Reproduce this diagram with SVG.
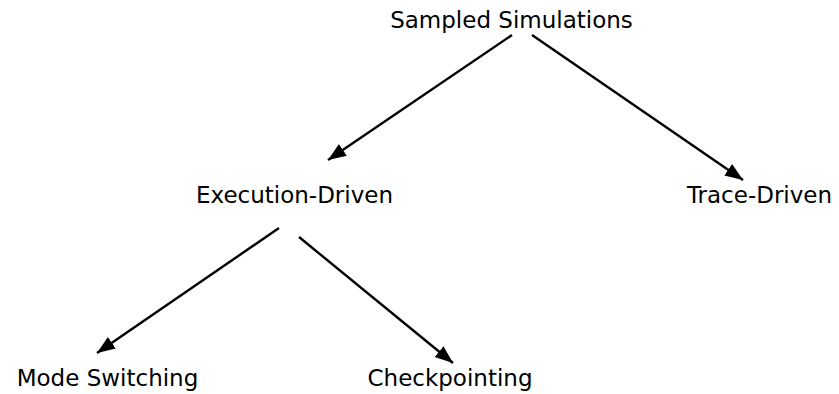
<svg xmlns="http://www.w3.org/2000/svg" width="839" height="394" viewBox="0 0 839 394">
  <style>
    .lbl { font-family: "DejaVu Sans", "Liberation Sans", sans-serif; font-size: 23px; fill: #000; text-anchor: middle; }
    .edge { stroke: #000; stroke-width: 2.4; fill: none; marker-end: url(#arrow); }
  </style>
  <defs>
    <marker id="arrow" markerUnits="userSpaceOnUse" markerWidth="19" markerHeight="15" refX="18" refY="7" orient="auto">
      <path d="M0,0 L18,7 L0,14 z" fill="#000"/>
    </marker>
  </defs>
  <rect width="839" height="394" fill="#fff"/>
  <g id="connectors">
    <line class="edge" x1="512" y1="35" x2="328" y2="160"/>
    <line class="edge" x1="532" y1="35" x2="743" y2="180"/>
    <line class="edge" x1="279" y1="228" x2="97" y2="353"/>
    <line class="edge" x1="299" y1="237" x2="453" y2="363"/>
  </g>
  <g id="sampled"><text class="lbl" x="511.5" y="28">Sampled Simulations</text></g>
  <g id="execution"><text class="lbl" x="294.5" y="203">Execution-Driven</text></g>
  <g id="trace"><text class="lbl" x="759.5" y="203">Trace-Driven</text></g>
  <g id="mode"><text class="lbl" x="107.5" y="386">Mode Switching</text></g>
  <g id="checkpointing"><text class="lbl" x="450" y="386">Checkpointing</text></g>
</svg>
